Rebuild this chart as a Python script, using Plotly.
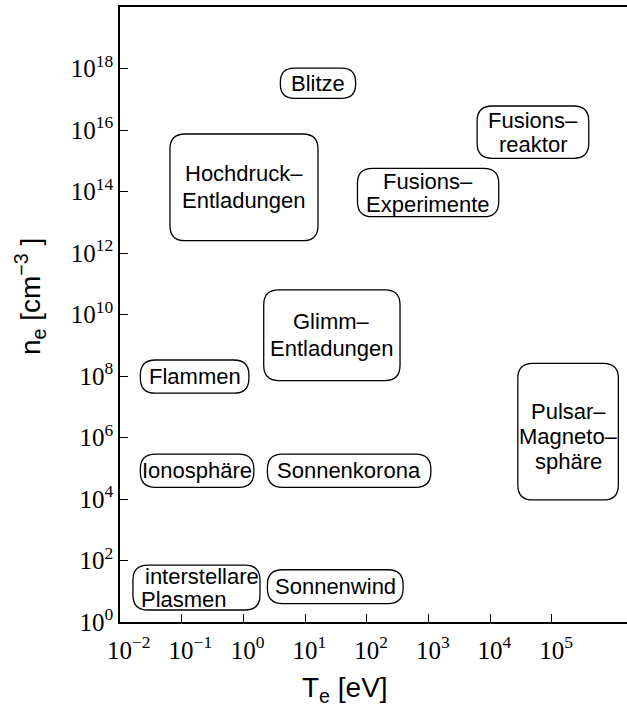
import numpy as np
import plotly.graph_objects as go

# ---- data (log10 of T_e [eV] and n_e [cm^-3]) ----
box_labels = ["Blitze", "Fusions–<br>reaktor", "Hochdruck–<br>Entladungen",
              "Fusions–<br>Experimente", "Glimm–<br>Entladungen", "Flammen",
              "Pulsar–<br>Magneto–<br>sphäre", "Ionosphäre", "Sonnenkorona",
              "interstellare<br>Plasmen", "Sonnenwind"]
logT_lo = [0.60, 3.79, -1.19, 1.85, 0.33, -1.67, 4.45, -1.67, 0.39, -1.79, 0.39]
logT_hi = [1.82, 5.60, 1.21, 4.14, 2.54, 0.09, 6.08, 0.17, 3.04, 0.27, 2.59]
logn_lo = [17.03, 15.08, 12.40, 13.18, 7.85, 7.44, 3.97, 4.38, 4.38, 0.39, 0.60]
logn_hi = [18.01, 16.78, 15.87, 14.75, 10.80, 8.52, 8.41, 5.46, 5.46, 1.85, 1.70]

x_tick_exp = [-2, -1, 0, 1, 2, 3, 4, 5]
y_tick_exp = [0, 2, 4, 6, 8, 10, 12, 14, 16, 18]
x_range = [-2.0, 6.22]
y_range = [0.0, 20.0]

# ---- styling (line pitch per box in px, per-line shifts) ----
line_pitch = [0, 24, 27, 23, 27, 0, 25, 0, 0, 23, 0]
line_xshift = {9: [6, -12]}
text_yshift = {6: -5}
box_font = dict(family="Liberation Sans", size=22, color="black")

# ---- layout geometry ----
W, H = 627, 707
ML, MR, MT, MB = 120, 0, 7, 85
pw = W - ML - MR
ph = H - MT - MB
px_per_dec_x = pw / (x_range[1] - x_range[0])
px_per_dec_y = ph / (y_range[1] - y_range[0])
radius_px = 15


def fmt(v):
    return np.format_float_positional(float(v), precision=14, unique=True, trim='-')


def rounded_path(x0, x1, y0, y1):
    h_px = (y1 - y0) * px_per_dec_y
    w_px = (x1 - x0) * px_per_dec_x
    r = min(radius_px, h_px / 2 - 1, w_px / 2 - 1)
    rx = r / px_per_dec_x
    ry = r / px_per_dec_y
    pts = [
        ("M", [(x0 + rx, y0)]),
        ("L", [(x1 - rx, y0)]),
        ("Q", [(x1, y0), (x1, y0 + ry)]),
        ("L", [(x1, y1 - ry)]),
        ("Q", [(x1, y1), (x1 - rx, y1)]),
        ("L", [(x0 + rx, y1)]),
        ("Q", [(x0, y1), (x0, y1 - ry)]),
        ("L", [(x0, y0 + ry)]),
        ("Q", [(x0, y0), (x0 + rx, y0)]),
    ]
    s = ""
    for cmd, ps in pts:
        s += cmd + " " + " ".join(f"{fmt(10.0 ** a)},{fmt(10.0 ** b)}" for a, b in ps) + " "
    return s + "Z"


fig = go.Figure()
# invisible trace to establish axes
fig.add_trace(go.Scatter(x=[10.0 ** x_range[0], 10.0 ** x_range[1]],
                         y=[10.0 ** y_range[0], 10.0 ** y_range[1]],
                         mode="markers", marker=dict(opacity=0),
                         hoverinfo="skip", showlegend=False))

shapes = []
annotations = []
for i, (lab, a0, a1, b0, b1) in enumerate(zip(box_labels, logT_lo, logT_hi, logn_lo, logn_hi)):
    shapes.append(dict(type="path", path=rounded_path(a0, a1, b0, b1), xref="x", yref="y",
                       line=dict(color="black", width=1.3), fillcolor="rgba(0,0,0,0)"))
    lines = lab.split("<br>")
    n = len(lines)
    for j, line in enumerate(lines):
        ys = ((n - 1) / 2 - j) * line_pitch[i] + text_yshift.get(i, 0)
        xs = line_xshift.get(i, [0] * n)[j]
        annotations.append(dict(x=(a0 + a1) / 2, y=(b0 + b1) / 2, xref="x", yref="y",
                                text=line, showarrow=False, yshift=ys, xshift=xs,
                                font=box_font))

annotations.append(dict(x=(30 - ML) / pw, y=(622 - 297) / ph, xref="paper", yref="paper",
                        text="n<sub>e</sub> [cm<sup>−3</sup> ]", textangle=-90, showarrow=False,
                        xanchor="center", yanchor="middle",
                        font=dict(family="Liberation Sans", size=28, color="black")))
annotations.append(dict(x=(345 - ML) / pw, y=(622 - 689) / ph, xref="paper", yref="paper",
                        text="T<sub>e</sub> [eV]", showarrow=False,
                        xanchor="center", yanchor="middle",
                        font=dict(family="Liberation Sans", size=28, color="black")))


def xlabel(e):
    sup = ("−" + str(-e)) if e < 0 else str(e)
    pad = "&nbsp;" * (2 * len(sup))
    return f"<sup>{pad}</sup>10<sup>{sup}</sup>"


fig.update_layout(
    width=W, height=H,
    margin=dict(l=ML, r=MR, t=MT, b=MB),
    plot_bgcolor="white", paper_bgcolor="white",
    shapes=shapes, annotations=annotations, showlegend=False,
    xaxis=dict(type="log", range=x_range, showgrid=False, zeroline=False,
               showline=True, linecolor="black", linewidth=1.5, mirror=True,
               ticks="inside", ticklen=8, tickwidth=1, tickcolor="black",
               tickvals=[10.0 ** e for e in x_tick_exp],
               ticktext=[xlabel(e) for e in x_tick_exp],
               tickangle=0, ticklabelstandoff=5,
               tickfont=dict(family="Liberation Serif", size=25, color="black")),
    yaxis=dict(type="log", range=y_range, showgrid=False, zeroline=False,
               showline=True, linecolor="black", linewidth=1.5,
               ticks="inside", ticklen=8, tickwidth=1, tickcolor="black",
               tickvals=[10.0 ** e for e in y_tick_exp],
               ticktext=[f"10<sup>{e}</sup>" for e in y_tick_exp],
               tickfont=dict(family="Liberation Serif", size=25, color="black")),
)

fig.write_html("out.html")
